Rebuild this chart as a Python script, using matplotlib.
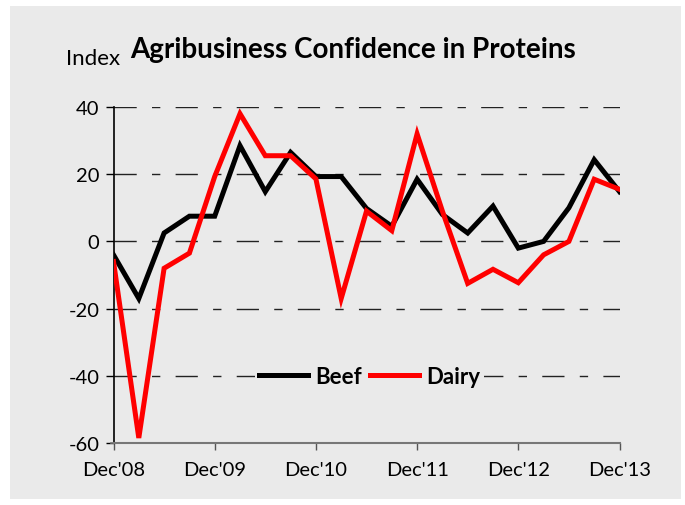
import matplotlib
matplotlib.use("Agg")
import matplotlib.pyplot as plt
from matplotlib.patches import Rectangle

# quarterly index, Dec'08 .. Dec'13
beef = [-4, -17, 2.5, 7.5, 7.5, 28.5, 14.8, 26.5, 19.3, 19.3, 9.8, 4.5,
        18.5, 8, 2.5, 10.5, -2, 0, 10, 24.3, 14.8]
dairy = [-6, -58.5, -8, -3.5, 19.3, 38, 25.5, 25.5, 18.6, -17, 9, 3.2,
         32, 9, -12.5, -8.3, -12.3, -4, 0, 18.5, 15.5]
tick_labels = ["Dec'08", "Dec'09", "Dec'10", "Dec'11", "Dec'12", "Dec'13"]
y_ticks = [-60, -40, -20, 0, 20, 40]

plt.rcParams['font.family'] = ['Lato', 'DejaVu Sans']
bg = '#EAEAEA'

fig = plt.figure(figsize=(6.85, 5.06), dpi=100)
fig.patch.set_facecolor('white')
# grey panel with a thin white margin
fig.add_artist(Rectangle((10 / 685, 6 / 506), 671 / 685, 493 / 506,
                         transform=fig.transFigure, facecolor=bg,
                         edgecolor='none', zorder=-10))

ax = fig.add_axes([113.5 / 685, 1 - 444 / 506, 506 / 685, 336 / 506])
ax.set_facecolor(bg)

x = list(range(len(beef)))
ax.plot(x, beef, color='black', lw=3.6, label='Beef', solid_joinstyle='miter', zorder=3)
ax.plot(x, dairy, color='#FF0000', lw=3.6, label='Dairy', solid_joinstyle='miter', zorder=4)

ax.set_xlim(0, 20)
ax.set_ylim(-60, 40)
ax.set_xticks(range(0, 21, 4))
ax.set_xticklabels(tick_labels)
ax.set_yticks(y_ticks)
ax.set_yticklabels([str(v) for v in y_ticks])

for v in y_ticks[1:]:
    ax.axhline(v, color='#222222', lw=1.0, dashes=(16, 11, 6, 11), zorder=1)
ax.plot([-0.08, 0], [-60, -60], color='#777777', lw=1.2, clip_on=False)

for side in ['top', 'right']:
    ax.spines[side].set_visible(False)
ax.spines['left'].set_color('black')
ax.spines['left'].set_linewidth(1.2)
ax.spines['bottom'].set_color('#777777')
ax.spines['bottom'].set_linewidth(1.5)

ax.tick_params(axis='y', direction='out', length=6, width=1, colors='black',
               labelsize=14.5, pad=4)
ax.tick_params(axis='x', direction='out', length=5, width=1, color='#555555',
               labelsize=14.5, labelcolor='black', pad=8)

leg = ax.legend(loc='center', bbox_to_anchor=(0.506, 0.198), ncol=2,
                frameon=True, facecolor=bg, edgecolor='none', framealpha=1,
                handlelength=2.2, handletextpad=0.3, columnspacing=0.4,
                borderpad=0.2, prop={'weight': 'bold', 'size': 16})
leg.get_frame().set_linewidth(0)

fig.text(66 / 685, 1 - 59 / 506, 'Index', fontsize=16, va='center', ha='left')
fig.text(130 / 685, 1 - 50 / 506, 'Agribusiness Confidence in Proteins',
         fontsize=20, fontweight='bold', va='center', ha='left')

fig.savefig('out.png', dpi=100, facecolor='white')
